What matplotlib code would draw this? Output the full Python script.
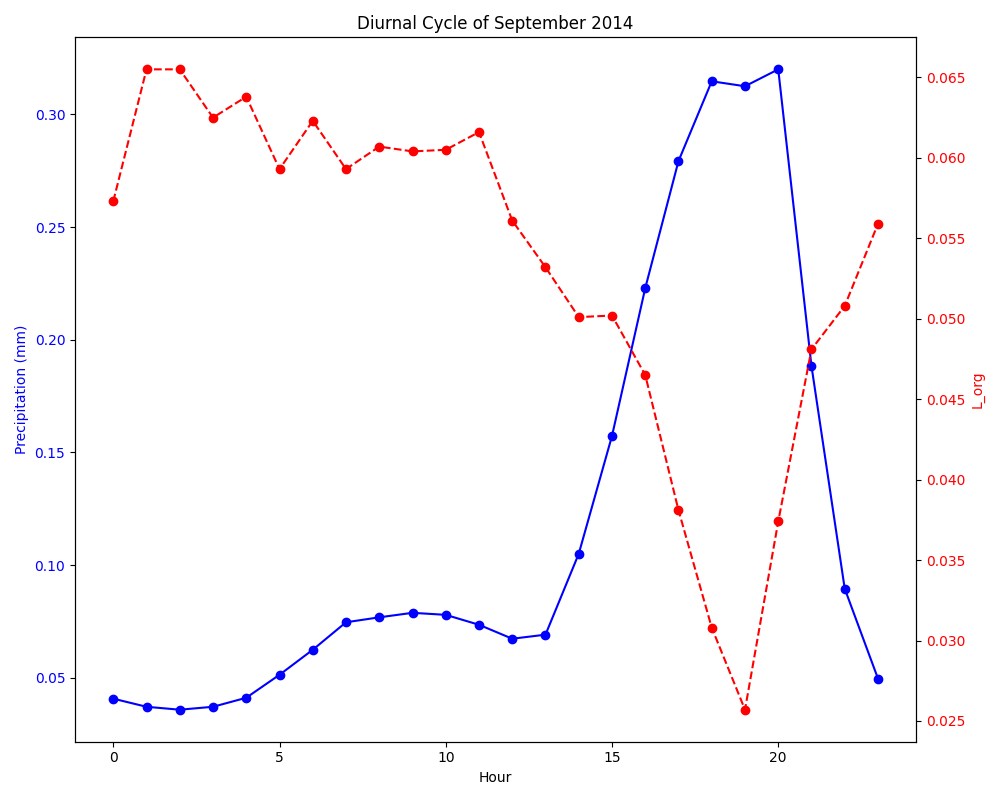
import matplotlib
matplotlib.use("Agg")
import matplotlib.pyplot as plt

hours = list(range(24))
precip = [0.0407, 0.0371, 0.0358, 0.0371, 0.0411, 0.0513, 0.0624, 0.0746, 0.0768, 0.0788,
          0.0779, 0.0735, 0.0673, 0.0691, 0.1050, 0.1573, 0.2229, 0.2793, 0.3147, 0.3125,
          0.3200, 0.1883, 0.0895, 0.0496]
l_org = [0.0573, 0.0655, 0.0655, 0.0625, 0.0638, 0.0593, 0.0623, 0.0593, 0.0607, 0.0604,
         0.0605, 0.0616, 0.0561, 0.0532, 0.0501, 0.0502, 0.0465, 0.0381, 0.0308, 0.0257,
         0.0374, 0.0481, 0.0508, 0.0559]

fig, ax1 = plt.subplots(figsize=(10, 8), dpi=100)
ax1.plot(hours, precip, color='blue', marker='o', linestyle='-')
ax1.set_xlabel('Hour')
ax1.set_ylabel('Precipitation (mm)', color='blue')
ax1.tick_params(axis='y', labelcolor='blue')

ax2 = ax1.twinx()
ax2.plot(hours, l_org, color='red', marker='o', linestyle='--')
ax2.set_ylabel('L_org', color='red')
ax2.tick_params(axis='y', labelcolor='red')

ax1.set_title('Diurnal Cycle of September 2014')
fig.tight_layout()
fig.savefig('out.png')
